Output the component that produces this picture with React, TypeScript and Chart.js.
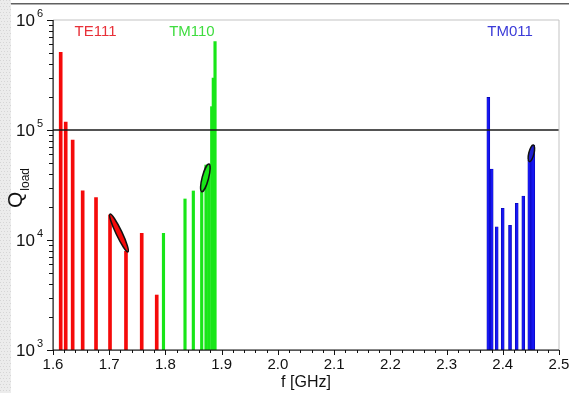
import React, { useEffect, useRef } from "react";
import { Chart, registerables } from "chart.js";

Chart.register(...registerables);

// ---- data ----
const te111Freq = [1.6137, 1.6226, 1.635, 1.6528, 1.6765, 1.7014, 1.7298, 1.7578, 1.7845];
const te111Q = [508000, 118000, 81000, 28000, 24300, 16900, 7900, 11500, 3160];

const tm110Freq = [1.7965, 1.8348, 1.8496, 1.8645, 1.8721, 1.8769, 1.8823, 1.8851, 1.8882];
const tm110Q = [11500, 23600, 27900, 27500, 48000, 43000, 163000, 297000, 635000];

const tm011Freq = [2.3743, 2.3803, 2.3892, 2.3999, 2.4129, 2.4248, 2.4365, 2.4472, 2.4515, 2.4543];
const tm011Q = [198000, 44200, 13200, 19400, 13600, 21600, 25100, 53000, 60000, 73000];

const thresholdQ = 100000;

const modeNames = ["TE111", "TM110", "TM011"];
const modeLabelFreq = [1.6756, 1.8471, 2.4129];

// ellipse highlights: [f1, Q1, f2, Q2]
const ellipseTE111 = [1.7014, 17200, 1.7334, 7800];
const ellipseTM110 = [1.8645, 27500, 1.8775, 49000];
const ellipseTM011 = [2.4473, 51600, 2.4544, 73000];

const xTickLabels = ["1.6", "1.7", "1.8", "1.9", "2.0", "2.1", "2.2", "2.3", "2.4", "2.5"];
const yTickExponents = [3, 4, 5, 6];

const X_MIN = 1.6;
const X_MAX = 2.5;
const Y_MIN = 1000;
const Y_MAX = 1000000;

const RED = "#f50a0a";
const GREEN = "#18e618";
const BLUE = "#1616f2";

const toBars = (f: number[], q: number[]) => f.map((x, i) => ({ x, y: [Y_MIN, q[i]] }));

const FONT = "'Liberation Sans', Arial, sans-serif";

const decorPlugin = {
  id: "decor",
  beforeDraw(chart: any) {
    const ctx = chart.ctx;
    ctx.save();
    ctx.fillStyle = "#ffffff";
    ctx.fillRect(0, 0, chart.width, chart.height);
    // left dotted strip
    ctx.fillStyle = "#ececec";
    ctx.fillRect(0, 0, 11, chart.height);
    ctx.fillStyle = "#d6d6d6";
    for (let y = 0; y < chart.height; y += 3) {
      for (let x = (y / 3) % 2 ? 1 : 0; x < 11; x += 3) ctx.fillRect(x, y, 1, 1);
    }
    // top line
    ctx.fillStyle = "#606060";
    ctx.fillRect(11, 3, chart.width - 11, 1.5);
    ctx.restore();
  },
  afterDatasetsDraw(chart: any) {
    const ctx = chart.ctx;
    const xs = chart.scales.x;
    const ys = chart.scales.y;
    const a = chart.chartArea;
    ctx.save();

    // ellipses
    const ell = (e: number[], half: number, fill: string) => {
      const x1 = xs.getPixelForValue(e[0]);
      const y1 = ys.getPixelForValue(e[1]);
      const x2 = xs.getPixelForValue(e[2]);
      const y2 = ys.getPixelForValue(e[3]);
      const cx = (x1 + x2) / 2;
      const cy = (y1 + y2) / 2;
      const len = Math.hypot(x2 - x1, y2 - y1) / 2;
      const ang = Math.atan2(y2 - y1, x2 - x1);
      ctx.beginPath();
      ctx.ellipse(cx, cy, len, half, ang, 0, Math.PI * 2);
      ctx.fillStyle = fill;
      ctx.fill();
      ctx.lineWidth = 1.5;
      ctx.strokeStyle = "#111";
      ctx.stroke();
    };
    ell(ellipseTE111, 3, RED);
    ell(ellipseTM110, 3.2, GREEN);
    ell(ellipseTM011, 2.6, "#2020d0");

    // frame
    ctx.fillStyle = "#c4c4c4";
    ctx.fillRect(a.left, a.top - 0.5, a.right - a.left, 1);
    ctx.fillRect(a.right - 0.5, a.top, 1, a.bottom - a.top);
    ctx.fillStyle = "#111";
    ctx.fillRect(a.left - 0.5, a.top, 1.2, a.bottom - a.top + 1);
    ctx.fillRect(a.left, a.bottom - 0.5, a.right - a.left, 1.2);

    // y ticks
    ctx.strokeStyle = "#111";
    ctx.lineWidth = 1;
    for (let e = 3; e <= 6; e++) {
      for (let m = 1; m <= 9; m++) {
        const v = m * Math.pow(10, e);
        if (v > Y_MAX) break;
        const y = Math.round(ys.getPixelForValue(v)) + 0.5;
        const len = m === 1 ? 6 : 4;
        ctx.beginPath();
        ctx.moveTo(a.left - len, y);
        ctx.lineTo(a.left, y);
        ctx.stroke();
      }
    }
    // x ticks
    for (let i = 0; i <= 45; i++) {
      const v = X_MIN + i * 0.02;
      const x = Math.round(xs.getPixelForValue(v)) + 0.5;
      const len = i % 5 === 0 ? 5 : 3;
      ctx.beginPath();
      ctx.moveTo(x, a.bottom);
      ctx.lineTo(x, a.bottom + len);
      ctx.stroke();
    }

    // y tick labels
    ctx.fillStyle = "#111";
    yTickExponents.forEach((e) => {
      const y = ys.getPixelForValue(Math.pow(10, e));
      ctx.font = "17px " + FONT;
      ctx.textAlign = "right";
      ctx.textBaseline = "middle";
      ctx.fillText("10", 35, y + 1);
      ctx.font = "11px " + FONT;
      ctx.textAlign = "left";
      ctx.fillText(String(e), 37, y - 6);
    });

    // x tick labels
    ctx.font = "15px " + FONT;
    ctx.textAlign = "center";
    ctx.textBaseline = "middle";
    xTickLabels.forEach((t) => {
      const x = xs.getPixelForValue(parseFloat(t));
      ctx.fillText(t, x, a.bottom + 15);
    });

    // x title
    ctx.font = "16px " + FONT;
    ctx.fillText("f [GHz]", (a.left + a.right) / 2, a.bottom + 33);

    // y title
    ctx.save();
    ctx.translate(22, 208);
    ctx.rotate(-Math.PI / 2);
    ctx.textAlign = "left";
    ctx.textBaseline = "alphabetic";
    ctx.font = "21px " + FONT;
    ctx.fillText("Q", 0, 0);
    const qw = ctx.measureText("Q").width;
    ctx.font = "12px " + FONT;
    ctx.fillText("load", qw + 1, 7);
    ctx.restore();

    // mode labels
    const labelColors = ["#e83038", "#3fdc3f", "#3b3bd8"];
    ctx.font = "15px " + FONT;
    ctx.textAlign = "center";
    ctx.textBaseline = "middle";
    modeNames.forEach((n, i) => {
      ctx.fillStyle = labelColors[i];
      ctx.fillText(n, xs.getPixelForValue(modeLabelFreq[i]), a.top + 12);
    });

    ctx.restore();
  },
};

export default function App() {
  const ref = useRef<HTMLCanvasElement | null>(null);
  useEffect(() => {
    if (!ref.current) return;
    const chart = new Chart(ref.current, {
      type: "bar",
      data: {
        datasets: [
          {
            type: "line",
            label: "threshold",
            data: [
              { x: X_MIN, y: thresholdQ },
              { x: X_MAX, y: thresholdQ },
            ],
            borderColor: "#1a1a1a",
            borderWidth: 1.3,
            pointRadius: 0,
            order: 0,
          } as any,
          {
            label: "TE111",
            data: toBars(te111Freq, te111Q) as any,
            backgroundColor: RED,
            barThickness: 3,
            order: 1,
          },
          {
            label: "TM110",
            data: toBars(tm110Freq, tm110Q) as any,
            backgroundColor: GREEN,
            barThickness: 2.5,
            order: 1,
          },
          {
            label: "TM011",
            data: toBars(tm011Freq, tm011Q) as any,
            backgroundColor: BLUE,
            borderColor: "#0000a8",
            borderWidth: 0.6,
            borderSkipped: false,
            barThickness: 3,
            order: 1,
          },
        ],
      },
      options: {
        responsive: false,
        animation: false,
        grouped: false,
        events: [],
        layout: { padding: { left: 0, top: 20, right: 10, bottom: 0 } },
        plugins: { legend: { display: false }, tooltip: { enabled: false } },
        scales: {
          x: {
            type: "linear",
            min: X_MIN,
            max: X_MAX,
            offset: false,
            grid: { display: false, drawTicks: false },
            border: { display: false },
            ticks: { display: false },
            afterFit: (s: any) => {
              s.height = 43;
            },
          },
          y: {
            type: "logarithmic",
            min: Y_MIN,
            max: Y_MAX,
            grid: { display: false, drawTicks: false },
            border: { display: false },
            ticks: { display: false },
            afterFit: (s: any) => {
              s.width = 53;
            },
          },
        },
      } as any,
      plugins: [decorPlugin],
    });
    return () => chart.destroy();
  }, []);
  return (
    <div style={{ position: "fixed", left: 0, top: 0, width: 569, height: 393 }}>
      <canvas ref={ref} width={569} height={393} style={{ display: "block" }} />
    </div>
  );
}
